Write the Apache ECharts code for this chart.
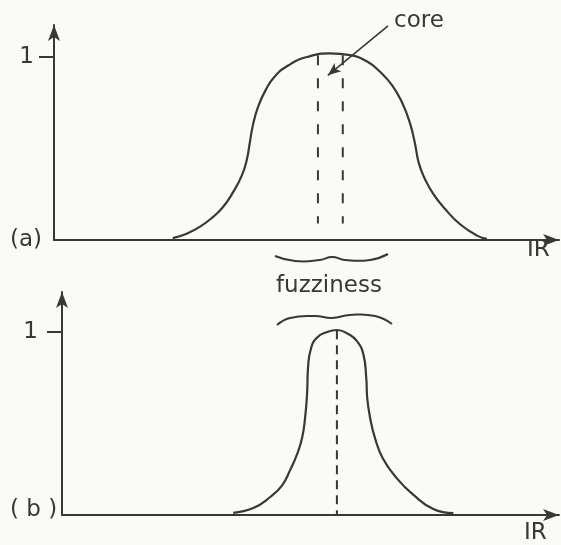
<!DOCTYPE html>
<html>
<head>
<meta charset="utf-8">
<style>
  html, body { margin: 0; padding: 0; background: #fafaf7; }
  #chart { width: 561px; height: 545px; }
</style>
<script src="https://cdn.jsdelivr.net/npm/echarts@6/dist/echarts.min.js"></script>
</head>
<body>
<div id="chart"></div>
<script>
// (a) wide membership function (x in 0..100, y = membership)
var curveA = [
    [23.9, 0.01], [26.8, 0.036], [29.4, 0.073], [32.0, 0.126], [34.0, 0.18], [36.0, 0.26],
    [37.8, 0.353], [38.8, 0.44], [39.4, 0.533], [40.0, 0.625], [41.0, 0.723], [42.5, 0.815],
    [44.5, 0.896], [47.5, 0.96], [50.9, 1.0], [55.5, 1.02], [59.6, 1.01], [63.0, 0.975],
    [65.6, 0.919], [68.0, 0.846], [70.0, 0.753], [71.6, 0.64], [72.6, 0.53], [73.4, 0.42],
    [74.6, 0.335], [76.3, 0.252], [78.7, 0.169], [81.7, 0.086], [85.1, 0.024], [87.1, 0.007]
];
// core limits of (a)
var coreLeft = [[53.1, 1.01], [53.1, 0.09]];
var coreRight = [[58.1, 1.01], [58.1, 0.09]];
// (b) narrow membership function
var curveB = [
    [35.0, 0.012], [39.1, 0.038], [42.5, 0.097], [45.0, 0.162], [46.6, 0.244], [48.1, 0.336],
    [49.1, 0.424], [49.7, 0.532], [50.1, 0.664], [50.3, 0.806], [50.9, 0.91], [52.1, 0.969],
    [54.2, 1.0], [56.2, 1.011], [58.5, 0.989], [60.3, 0.95], [61.6, 0.879], [62.2, 0.748],
    [62.4, 0.638], [63.0, 0.529], [64.0, 0.419], [65.6, 0.309], [68.5, 0.199], [71.8, 0.111],
    [75.9, 0.033], [80.0, 0.01]
];
var coreB = [[56.2, 1.01], [56.2, 0]];
// arrow pointing at the core: [start, end]
var coreArrow = [[67.2, 1.17], [55.1, 0.90]];
var yTicks = [1];

var ink = '#383838';
var font = 'DejaVu Sans';

var chart = echarts.init(document.getElementById('chart'));

function yAxisFor(gridIndex, max, margin) {
    return {
        type: 'value', gridIndex: gridIndex, min: 0, max: max,
        splitLine: { show: false },
        axisLine: { show: true, symbol: ['none', 'arrow'], symbolSize: [9, 16], lineStyle: { color: ink, width: 2 } },
        axisTick: { show: true, customValues: yTicks, length: 15, lineStyle: { color: ink, width: 2 } },
        axisLabel: {
            show: true, customValues: yTicks, margin: margin, color: ink, fontSize: 23, fontFamily: font,
            formatter: function (v) { return v === 1 ? '1' : ''; }
        }
    };
}

function xAxisFor(gridIndex) {
    return {
        type: 'value', gridIndex: gridIndex, min: 0, max: 101.6,
        splitLine: { show: false },
        axisLine: { show: true, onZero: false, symbol: ['none', 'arrow'], symbolSize: [9, 16], lineStyle: { color: ink, width: 2 } },
        axisTick: { show: false },
        axisLabel: { show: false }
    };
}

function curve(data, idx) {
    return {
        type: 'line', xAxisIndex: idx, yAxisIndex: idx, data: data,
        smooth: 0.5, symbol: 'none', silent: true,
        lineStyle: { color: ink, width: 2.2 }
    };
}

function dashed(data, idx, pattern) {
    return {
        type: 'line', xAxisIndex: idx, yAxisIndex: idx, data: data,
        symbol: 'none', silent: true,
        lineStyle: { color: ink, width: 2, type: pattern }
    };
}

var arrowSeries = dashed(coreLeft, 0, [10, 13]);
arrowSeries.clip = false;
arrowSeries.markLine = {
    silent: true,
    symbol: ['none', 'arrow'],
    symbolSize: [8, 13],
    label: { show: false },
    lineStyle: { color: ink, width: 1.6, type: 'solid' },
    data: [[{ coord: coreArrow[0] }, { coord: coreArrow[1] }]]
};

var option = {
    backgroundColor: '#fafaf7',
    animation: false,
    grid: [
        { left: 54, right: 2, top: 25, height: 215 },
        { left: 62, right: 2, top: 292, height: 223 }
    ],
    xAxis: [xAxisFor(0), xAxisFor(1)],
    yAxis: [yAxisFor(0, 215 / 183, 20), yAxisFor(1, 223 / 183, 24)],
    series: [
        curve(curveA, 0),
        arrowSeries,
        dashed(coreRight, 0, [10, 13]),
        curve(curveB, 1),
        dashed(coreB, 1, [9, 6])
    ],
    graphic: [
        { type: 'text', left: 394, top: 10, style: { text: 'core', fill: ink, font: '23px "DejaVu Sans"' } },
        { type: 'text', left: 276, top: 275, style: { text: 'fuzziness', fill: ink, font: '23px "DejaVu Sans"', letterSpacing: 1 } },
        { type: 'text', left: 10, top: 229, style: { text: '(a)', fill: ink, font: '23px "DejaVu Sans"' } },
        { type: 'text', left: 10, top: 499, style: { text: '( b )', fill: ink, font: '23px "DejaVu Sans"' } },
        { type: 'text', left: 527, top: 239, style: { text: 'IR', fill: ink, font: '23px "DejaVu Sans"', letterSpacing: -2 } },
        { type: 'text', left: 524, top: 522, style: { text: 'IR', fill: ink, font: '23px "DejaVu Sans"', letterSpacing: -2 } },
        {
            type: 'polyline', silent: true,
            shape: { points: [[275, 256], [295, 261], [320, 260], [332, 257], [345, 260], [370, 260], [388, 254]], smooth: 0.5 },
            style: { stroke: ink, lineWidth: 2, fill: null }
        },
        {
            type: 'polyline', silent: true,
            shape: { points: [[277, 325], [290, 318], [315, 316], [332, 318], [350, 315], [375, 316], [392, 324]], smooth: 0.5 },
            style: { stroke: ink, lineWidth: 2, fill: null }
        }
    ]
};
chart.setOption(option);
</script>
</body>
</html>
